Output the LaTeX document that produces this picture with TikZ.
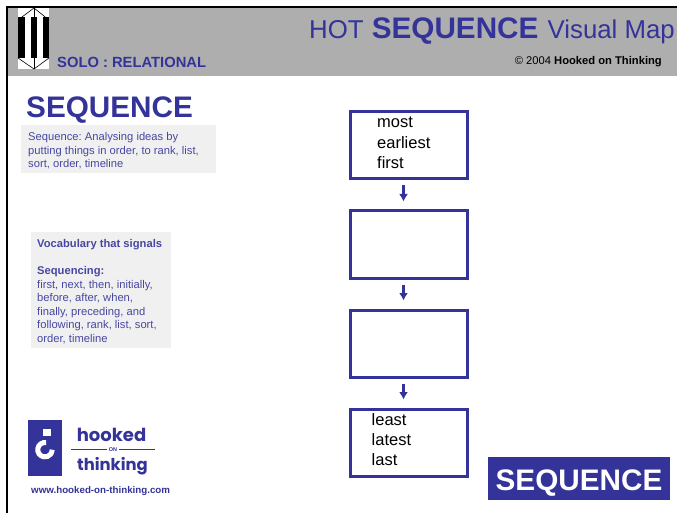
\documentclass[tikz,border=0pt]{standalone}
\usepackage{fontspec}
\setmainfont{Liberation Sans}
\newfontfamily\logofont{Poppins}
\definecolor{seqblue}{HTML}{333399}
\definecolor{bandgrey}{HTML}{AEAEAE}
\definecolor{panelgrey}{HTML}{F0F0F0}
\newcommand{\fsz}[1]{\fontsize{#1}{#1}\selectfont}
\usetikzlibrary{arrows.meta}
\tikzset{
seqbox/.style={draw=seqblue,line width=3pt,minimum width=117pt,minimum height=67pt,inner sep=0pt},
seqarrow/.style={draw=seqblue,line width=2.4pt,-{Latex[length=7.5pt,width=9pt]},shorten <=5pt,shorten >=8pt},
boxtext/.style={anchor=west,align=left,inner sep=0pt,font=\fontsize{16.5}{20.3}\selectfont},
bodytext/.style={anchor=north west,align=left,inner sep=0pt,text=seqblue!90!white,execute at begin node=\frenchspacing},
panel/.style={fill=panelgrey,inner sep=0pt,anchor=north west},
}
\begin{document}
\begin{tikzpicture}[x=1pt,y=-1pt]
\useasboundingbox (0,0) rectangle (677,513);

\fill[bandgrey] (7,7) rectangle (677,76);
\draw[line width=2.5pt] (7,513) -- (7,7) -- (677,7);

\fill[white] (18,8) rectangle (49,69);
\fill (18,17) rectangle (24.5,58);
\fill (30.5,17) rectangle (37,58);
\fill (43,17) rectangle (49,58);
\draw[line width=0.6pt] (18,20) -- (34,8) -- (49,20);
\draw[line width=0.6pt] (18,58) -- (34,69) -- (49,58);
\draw[line width=0.6pt] (34,8) -- (34,69);

\node[anchor=west,inner sep=0pt,text=seqblue,font=\fsz{14.75}\bfseries] (solo) at (57,62.5) {SOLO : RELATIONAL};

\node[anchor=base east,inner sep=0pt,text=seqblue,font=\fsz{25.8}] (maptitle) at (675,39) {HOT\hspace{1pt} {\fsz{29.7}\bfseries SEQUENCE}\hspace{2pt} Visual Map};

\node[anchor=east,inner sep=0pt,font=\fsz{11.2}] (copyright) at (662,61.5) {\char"00A9{} 2004 \textbf{Hooked on Thinking}};

\node[anchor=west,inner sep=0pt,text=seqblue,font=\fsz{29.7}\bfseries] (heading) at (26,110.5) {SEQUENCE};

\node[panel,minimum width=195pt,minimum height=48pt] (defpanel) at (21,125) {};
\node[bodytext,font=\fontsize{11.2}{13.5}\selectfont] (deftext) at (28,132.3) {Sequence: Analysing ideas by\\putting things in order, to rank, list,\\sort, order, timeline};

\node[panel,minimum width=140pt,minimum height=116pt] (vocabpanel) at (31,232) {};
\node[bodytext,font=\fontsize{11.2}{13.6}\selectfont] (vocabtext) at (37,239) {\textbf{Vocabulary that signals}\\[13.6pt]\textbf{Sequencing:}\\first, next, then, initially,\\before, after, when,\\finally, preceding, and\\following, rank, list, sort,\\order, timeline};

\node[seqbox] (box1) at (408.5,145.5) {};
\node[seqbox] (box2) at (408.5,244.5) {};
\node[seqbox] (box3) at (408.5,343.5) {};
\node[seqbox] (box4) at (408.5,442.5) {};

\node[boxtext] (firsttext) at (377,143) {most\\earliest\\first};
\node[boxtext] (lasttext) at (371.5,439.5) {least\\latest\\last};

\draw[seqarrow] ([xshift=-5pt]box1.south) -- ([xshift=-5pt]box2.north);
\draw[seqarrow] ([xshift=-5pt]box2.south) -- ([xshift=-5pt]box3.north);
\draw[seqarrow] ([xshift=-5pt]box3.south) -- ([xshift=-5pt]box4.north);

\fill[seqblue] (28,420) rectangle (62,476);
\fill[white] (43,429) rectangle (50.5,435.5);
\draw[white,line width=5pt] (46.2,442.6) arc[start angle=80,end angle=360,radius=7.2pt];

\node[inner sep=0pt,text=seqblue,font=\logofont\fsz{18}\bfseries] (hooked) at (111.5,434.5) {hooked};
\node[inner sep=0pt,text=seqblue,font=\logofont\fsz{16.4}\bfseries] (thinking) at (112.5,466.5) {thinking};
\node[inner sep=2pt,text=seqblue,font=\fsz{5.5}\bfseries] (on) at (113,449.5) {ON};
\coordinate (onleft) at (71,449.5);
\coordinate (onright) at (155,449.5);
\draw[seqblue,line width=0.8pt] (onleft) -- (on.west);
\draw[seqblue,line width=0.8pt] (on.east) -- (onright);

\node[anchor=west,inner sep=0pt,text=seqblue,font=\fsz{9.75}\bfseries] (website) at (31,490.5) {www.hooked-on-thinking.com};

\node[fill=seqblue,inner sep=0pt,minimum width=182pt,minimum height=43pt] (seqtag) at (579,478.5) {};
\node[text=white,inner sep=0pt,font=\fsz{29.7}\bfseries,anchor=base] (seqtagtext) at (579,490) {SEQUENCE};

\end{tikzpicture}
\end{document}
